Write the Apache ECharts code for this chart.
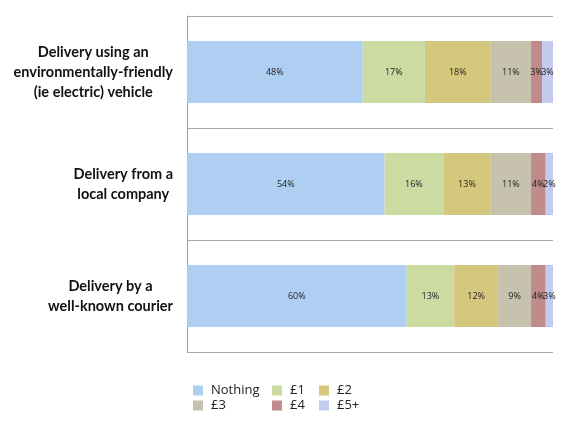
<!DOCTYPE html>
<html>
<head>
<meta charset="utf-8">
<script src="https://cdn.jsdelivr.net/npm/echarts@6/dist/echarts.min.js"></script>
<style>
  html, body { margin: 0; padding: 0; background: #fff; }
  #main { width: 585px; height: 422px; }
</style>
</head>
<body>
<div id="main"></div>
<script>
// categories, top to bottom
var categories = [
    'Delivery using an\nenvironmentally-friendly\n(ie electric) vehicle',
    'Delivery from a\nlocal company',
    'Delivery by a\nwell-known courier'
];
var seriesNames = ['Nothing', '£1', '£2', '£3', '£4', '£5+'];
// percentages per category, one array per amount
var nothing = [48, 54, 60];
var pound1 = [17, 16, 13];
var pound2 = [18, 13, 12];
var pound3 = [11, 11, 9];
var pound4 = [3, 4, 4];
var pound5 = [3, 2, 3];

var colors = ['#aecff1', '#cbdba2', '#d5c87d', '#c7c2ad', '#c18a8b', '#c4ccee'];
var values = [nothing, pound1, pound2, pound3, pound4, pound5];

var myChart = echarts.init(document.getElementById('main'));

var series = seriesNames.map(function (name, i) {
    return {
        name: name,
        type: 'bar',
        stack: 'total',
        barWidth: 62,
        itemStyle: { color: colors[i] },
        label: {
            show: true,
            position: 'inside',
            formatter: '{c}%',
            fontFamily: 'Open Sans',
            fontSize: 9,
            color: '#222'
        },
        emphasis: { disabled: true },
        data: values[i]
    };
});

// legend in three columns, two rows
function legendCol(names, left) {
    return {
        orient: 'vertical',
        left: left,
        top: 383,
        padding: 0,
        itemWidth: 10,
        itemHeight: 10,
        itemGap: 0,
        icon: 'rect',
        textStyle: {
            fontFamily: 'Open Sans', fontSize: 13, lineHeight: 15,
            color: '#222', padding: [0, 0, 0, 3]
        },
        data: names
    };
}

var option = {
    backgroundColor: '#fff',
    animation: false,
    grid: { left: 187, right: 32, top: 16, bottom: 70 },
    legend: [
        legendCol(['Nothing', '£3'], 193),
        legendCol(['£1', '£4'], 272),
        legendCol(['£2', '£5+'], 319)
    ],
    xAxis: {
        type: 'value',
        min: 0,
        max: 100,
        axisLabel: { show: false },
        axisTick: { show: false },
        splitLine: { show: false },
        axisLine: { show: false }
    },
    yAxis: {
        type: 'category',
        inverse: true,
        data: categories,
        axisTick: { show: false },
        axisLine: { show: true, lineStyle: { color: '#9a9a9a', width: 1 } },
        splitLine: { show: true, lineStyle: { color: '#a8a8a8', width: 1 } },
        axisLabel: {
            align: 'right',
            margin: 14,
            formatter: function (v) {
                return v.split('\n').map(function (l) { return '{c|' + l + '}'; }).join('\n');
            },
            rich: {
                c: {
                    align: 'center',
                    fontFamily: 'Lato',
                    fontWeight: 'bold',
                    fontSize: 14.5,
                    lineHeight: 20,
                    color: '#111'
                }
            }
        }
    },
    series: series
};

myChart.setOption(option);
</script>
</body>
</html>
